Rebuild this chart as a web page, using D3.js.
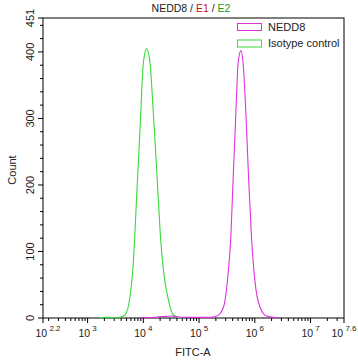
<!DOCTYPE html>
<html><head><meta charset="utf-8">
<script src="https://cdn.jsdelivr.net/npm/d3@7"></script>
<style>body{margin:0;background:#fff}svg{display:block;font-family:"Liberation Sans",Arial,sans-serif}</style>
</head><body><svg id="c" width="358" height="361"></svg>
<script>
// ---- data (x as log10 of FITC-A, y as count) ----
const seriesNames = ["NEDD8", "Isotype control"];
const isoLogX = [3.20,3.30,3.40,3.50,3.58,3.67,3.76,3.82,3.88,3.94,4.00,4.06,4.12,4.18,4.24,4.30,4.36,4.45,4.54,4.63,4.72];
const isoCount = [0,1,1,0,1,4.5,32,83,182,283,383,405,383,308,222,132,72,27,4.5,1,0];
const neddLogX = [3.95,4.00,4.10,4.20,4.30,4.40,4.50,4.60,4.70,4.85,5.00,5.10,5.20,5.32,5.44,5.51,5.57,5.61,5.66,5.70,5.75,5.79,5.84,5.89,5.94,6.00,6.09,6.21,6.33,6.42];
const neddCount = [0,1,0.5,1,2,2.5,3,2,1,1,1,1,1,3,17,57,122,207,308,383,402,383,308,207,122,57,17,3,1,0];
const xMajor = [2.2,3,4,5,6,7,7.6];
const yMajor = [0,100,200,300,400,451];
const yMinorStep = 20;
const yMax = 451;

const svg = d3.select("#c");
const L=43,R=344,T=18,B=318;
const x = d3.scaleLinear().domain([2.2,7.6]).range([L,R]);
const y = d3.scaleLinear().domain([0,yMax]).range([B,T]);

// minor x ticks
const xMinor=[];
for(let n=2;n<=7;n++) for(let m=2;m<=9;m++){const v=n+Math.log10(m); if(v>2.2&&v<7.6) xMinor.push(v);}
svg.selectAll(".xmin").data(xMinor).enter().append("line")
  .attr("x1",d=>x(d)).attr("x2",d=>x(d)).attr("y1",B).attr("y2",B+3).attr("stroke","#000");
svg.selectAll(".xmaj").data(xMajor).enter().append("line")
  .attr("x1",d=>x(d)).attr("x2",d=>x(d)).attr("y1",B).attr("y2",B+5).attr("stroke","#000");
const xl = svg.selectAll(".xl").data(xMajor).enter().append("text")
  .attr("x",d=>x(d)+(d===2.2?5:0)).attr("y",337).attr("text-anchor","middle").attr("fill","#222").style("font-size","10.5px");
xl.append("tspan").text("10");
xl.append("tspan").attr("dy",-6).style("font-size","8px").text(d=>" "+d);

// y ticks
const yMinor=d3.range(0,yMax+1,yMinorStep).filter(v=>v%100!==0);
svg.selectAll(".ymin").data(yMinor).enter().append("line")
  .attr("x1",L-3).attr("x2",L).attr("y1",d=>y(d)).attr("y2",d=>y(d)).attr("stroke","#000");
svg.selectAll(".ymaj").data(yMajor).enter().append("line")
  .attr("x1",L-5).attr("x2",L).attr("y1",d=>y(d)).attr("y2",d=>y(d)).attr("stroke","#000");
svg.selectAll(".yl").data(yMajor).enter().append("text")
  .attr("transform",d=>`translate(34,${y(d)}) rotate(-90)`).attr("text-anchor","middle")
  .attr("fill","#222").style("font-size","11px").text(d=>d);

// frame
svg.append("rect").attr("x",L).attr("y",T).attr("width",R-L).attr("height",B-T)
  .attr("fill","none").attr("stroke","#000").attr("stroke-width",1);

// curves
const line = d3.line().x(d=>x(d[0])).y(d=>y(d[1])).curve(d3.curveMonotoneX);
svg.append("path").datum(isoLogX.map((v,i)=>[v,isoCount[i]])).attr("d",line)
  .attr("fill","none").attr("stroke","#3ad83a").attr("stroke-width",1.1);
svg.append("path").datum(neddLogX.map((v,i)=>[v,neddCount[i]])).attr("d",line)
  .attr("fill","none").attr("stroke","#dd33dd").attr("stroke-width",1.1);

// legend
const legColors=["#dd33dd","#3ad83a"];
seriesNames.forEach((s,i)=>{
  svg.append("rect").attr("x",237.5).attr("y",23.5+i*16.5).attr("width",24).attr("height",7)
    .attr("fill","none").attr("stroke",legColors[i]).attr("stroke-width",1);
  svg.append("text").attr("x",268).attr("y",30.5+i*16.5).attr("fill","#222").style("font-size","11px").text(s);
});

// title
const t=svg.append("text").attr("x",191).attr("y",12).attr("text-anchor","middle").style("font-size","10.5px");
t.append("tspan").attr("fill","#222").text("NEDD8 / ");
t.append("tspan").attr("fill","#cc1111").text("E1");
t.append("tspan").attr("fill","#222").text(" / ");
t.append("tspan").attr("fill","#229922").text("E2");

// axis labels
svg.append("text").attr("x",193).attr("y",356).attr("text-anchor","middle").attr("fill","#222").style("font-size","11px").text("FITC-A");
svg.append("text").attr("transform","translate(16,170) rotate(-90)").attr("text-anchor","middle").attr("fill","#222").style("font-size","11px").text("Count");
</script></body></html>
